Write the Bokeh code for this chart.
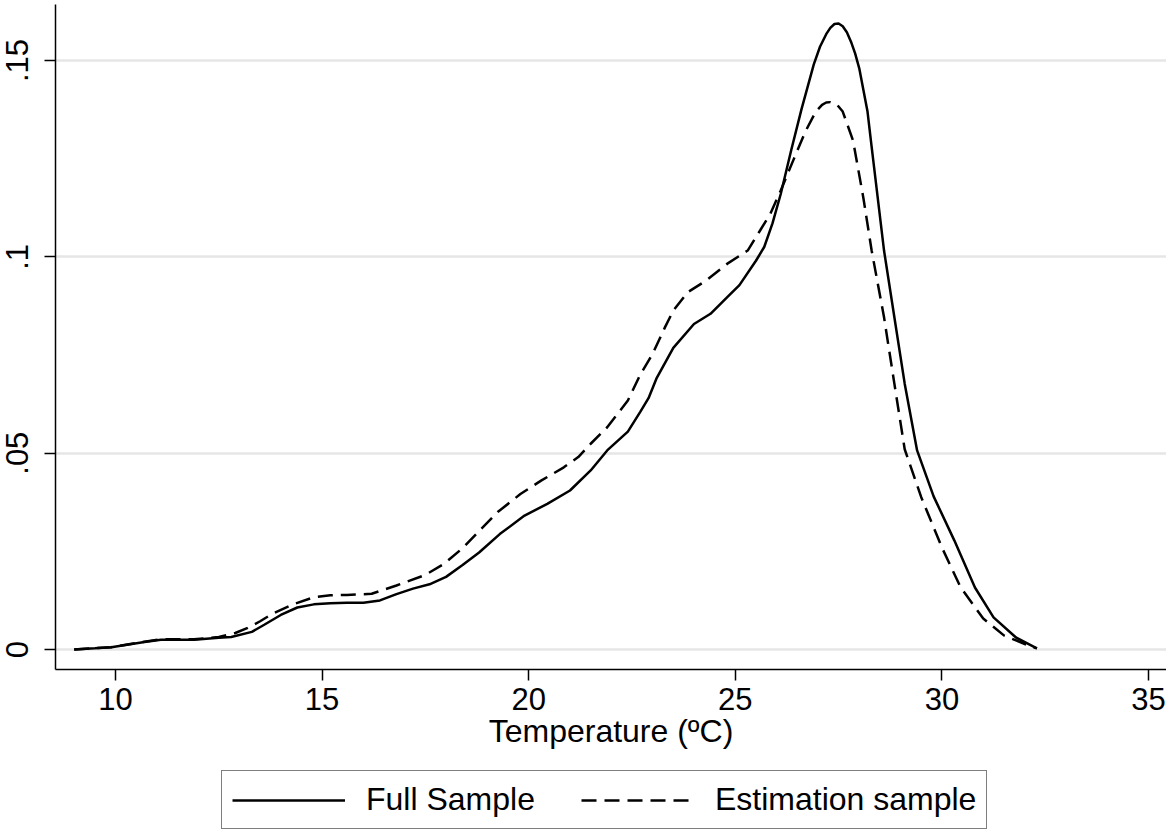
from bokeh.plotting import figure
from bokeh.layouts import column
from bokeh.models import FixedTicker, Legend, LegendItem, Range1d, CustomJSTickFormatter
from bokeh.embed import file_html
from bokeh.resources import INLINE

# ---------------- data ----------------
full_x = [9.0, 9.5, 9.9, 10.7, 11.1, 11.9, 12.5, 12.8, 13.3, 13.6,
          14.0, 14.4, 14.8, 15.2, 15.6, 16.0, 16.4, 16.8, 17.2, 17.6,
          18.0, 18.4, 18.8, 19.3, 19.9, 20.45, 21.0, 21.5, 21.9, 22.4,
          22.7, 22.9, 23.1, 23.5, 24.0, 24.4, 24.8, 25.1, 25.5, 25.7,
          25.9, 26.1, 26.35, 26.6, 26.9, 27.05, 27.2, 27.3, 27.4, 27.5,
          27.6, 27.7, 27.8, 27.9, 28.0, 28.2, 28.3, 28.6, 28.85, 29.1,
          29.4, 29.8, 30.3, 30.8, 31.25, 31.8, 32.3]
full_y = [0.0, 0.0003, 0.0006, 0.0019, 0.0025, 0.0025, 0.003, 0.0032, 0.0045, 0.0063,
          0.0088, 0.0107, 0.0115, 0.0118, 0.0119, 0.0119, 0.0125, 0.0141, 0.0155, 0.0166,
          0.0185, 0.0215, 0.0247, 0.0294, 0.0341, 0.0371, 0.0405, 0.0456, 0.0507, 0.0555,
          0.0605, 0.064, 0.0692, 0.0768, 0.0829, 0.0855, 0.0897, 0.0928, 0.099, 0.1025,
          0.1085, 0.116, 0.127, 0.1375, 0.149, 0.1535, 0.1567, 0.1583, 0.1593, 0.1594,
          0.1587, 0.1572, 0.1548, 0.1518, 0.148, 0.137, 0.128, 0.1016, 0.0846, 0.0677,
          0.0507, 0.039, 0.0278, 0.0158, 0.0082, 0.003, 0.0003]

est_x = [9.0, 9.9, 10.7, 11.1, 11.9, 12.5, 12.9, 13.2, 13.5, 13.8,
         14.3, 14.8, 15.2, 15.6, 16.2, 16.8, 17.5, 17.95, 18.4, 18.85,
         19.25, 19.8, 20.3, 20.85, 21.2, 21.5, 21.9, 22.4, 22.7, 23.0,
         23.3, 23.5, 23.85, 24.3, 24.8, 25.3, 25.6, 25.85, 26.1, 26.4,
         26.7, 26.95, 27.1, 27.2, 27.3, 27.45, 27.6, 27.85, 28.1, 28.3,
         28.6, 28.85, 29.1, 29.5, 30.0, 30.45, 31.0, 31.5, 32.1, 32.3]
est_y = [0.0, 0.0006, 0.002, 0.0026, 0.0026, 0.0032, 0.0042, 0.0055, 0.0072, 0.0091,
         0.0115, 0.0133, 0.0138, 0.0139, 0.0142, 0.0163, 0.019, 0.0218, 0.0258, 0.0307,
         0.035, 0.0396, 0.043, 0.0464, 0.049, 0.0524, 0.0566, 0.0634, 0.07, 0.0753,
         0.0821, 0.0863, 0.091, 0.094, 0.0982, 0.1016, 0.1067, 0.111, 0.1169, 0.1245,
         0.132, 0.137, 0.1387, 0.1393, 0.1394, 0.1389, 0.137, 0.1296, 0.115, 0.1016,
         0.0846, 0.0677, 0.051, 0.0388, 0.026, 0.0159, 0.0079, 0.0036, 0.001, 0.0003]

series_names = ["Full Sample", "Estimation sample"]
x_ticks = [10, 15, 20, 25, 30, 35]
y_ticks = [0, 0.05, 0.1, 0.15]
y_tick_labels = ["0", ".05", ".1", ".15"]
x_label = "Temperature (ºC)"

# ---------------- main figure ----------------
FONT = "Liberation Sans"
DASH = "15 8"

p = figure(width=1166, height=760,
           x_range=Range1d(8.548, 35.436), y_range=Range1d(-0.00509, 0.16426),
           output_backend="svg", toolbar_location=None,
           min_border_left=55, min_border_right=0, min_border_top=4, min_border_bottom=91)
p.outline_line_color = None
p.background_fill_color = "white"
p.border_fill_color = "white"

p.line(full_x, full_y, line_color="black", line_width=2.5)
p.line(est_x, est_y, line_color="black", line_width=2.5, line_dash=DASH)

for ax in (p.xaxis[0], p.yaxis[0]):
    ax.axis_line_color = "black"
    ax.axis_line_width = 1.5
    ax.major_tick_line_color = "black"
    ax.major_tick_line_width = 1.5
    ax.major_tick_out = 11
    ax.major_tick_in = 0
    ax.minor_tick_line_color = None
    ax.major_label_text_font = FONT
    ax.major_label_text_font_size = "31px"
    ax.major_label_text_color = "black"

p.xaxis.ticker = FixedTicker(ticks=x_ticks)
p.xaxis.major_label_standoff = 7
p.xaxis.axis_label = x_label
p.xaxis.axis_label_text_font = FONT
p.xaxis.axis_label_text_font_size = "32px"
p.xaxis.axis_label_text_font_style = "normal"
p.xaxis.axis_label_text_color = "black"
p.xaxis.axis_label_standoff = 0

p.yaxis.ticker = FixedTicker(ticks=y_ticks)
p.yaxis.formatter = CustomJSTickFormatter(
    args=dict(yvals=y_ticks, ylabs=y_tick_labels),
    code="const i = yvals.findIndex(t => Math.abs(t - tick) < 1e-9); return i >= 0 ? ylabs[i] : '';")
p.yaxis.major_label_orientation = "vertical"
p.yaxis.major_label_standoff = 16

p.xgrid.visible = False
p.ygrid.grid_line_color = "#e6e6e6"
p.ygrid.grid_line_width = 2.5

# ---------------- legend strip (same series, drawn out of view) ----------------
pl = figure(width=1166, height=70, x_range=Range1d(100, 101), y_range=Range1d(0, 1),
            output_backend="svg", toolbar_location=None,
            x_axis_location=None, y_axis_location=None,
            min_border_left=0, min_border_right=0, min_border_top=0, min_border_bottom=0)
pl.outline_line_color = None
pl.xgrid.visible = False
pl.ygrid.visible = False
pl.background_fill_color = "white"
pl.border_fill_color = "white"
l_full = pl.line(full_x, full_y, line_color="black", line_width=2.5)
l_est = pl.line(est_x, est_y, line_color="black", line_width=2.5, line_dash=DASH)

legend = Legend(items=[LegendItem(label=series_names[0], renderers=[l_full]),
                       LegendItem(label=series_names[1], renderers=[l_est])],
                orientation="horizontal", location=(166, 1),
                border_line_color="black", border_line_width=1.5,
                background_fill_color="white", background_fill_alpha=1.0,
                padding=10, spacing=46, margin=0,
                glyph_width=113, label_standoff=21,
                label_text_font=FONT, label_text_font_size="32px",
                label_text_color="black")
pl.add_layout(legend)

layout = column(p, pl, spacing=0)
open("out.html", "w").write(file_html(layout, INLINE))
